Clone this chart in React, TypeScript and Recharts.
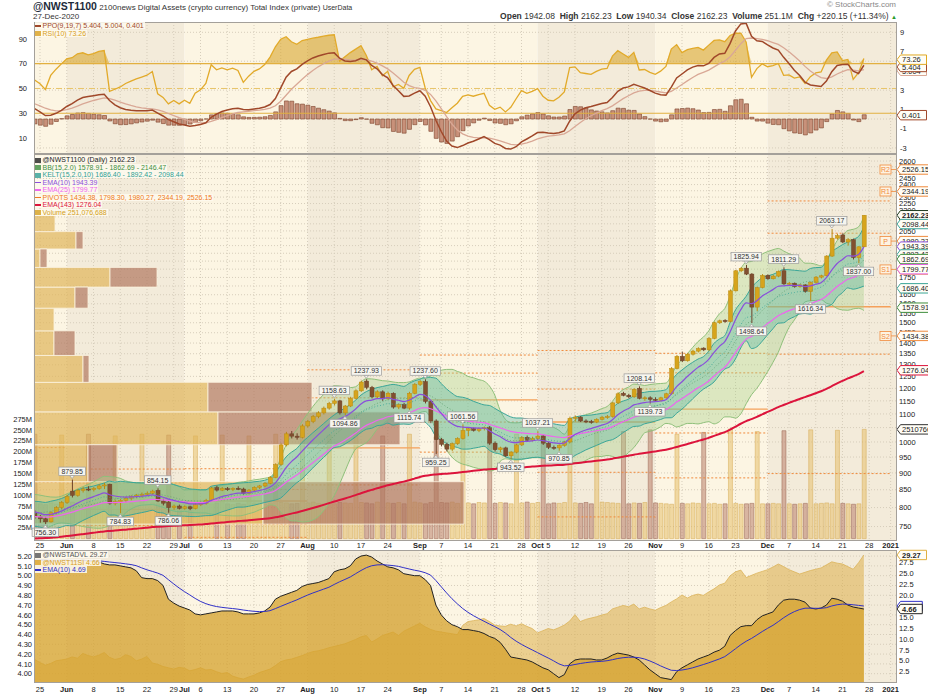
import React from 'react';
import {
  ComposedChart, XAxis, YAxis, CartesianGrid, Bar, Line, Area, Scatter,
  ReferenceArea, ReferenceLine, Cell,
} from 'recharts';

const FONT = '"Liberation Sans", Arial, sans-serif';
const W = 928;
const H = 697;

// plot boxes, page pixels
const PLOT_L = 34;
const PLOT_R = 897;
const TOP_Y0 = 22;
const TOP_Y1 = 154;
const MAIN_Y0 = 154;
const MAIN_Y1 = 541;
const BOT_Y0 = 550;
const BOT_Y1 = 683;
const X_DOMAIN = [-1.12, 160.19];

// ---------------- data ----------------
// one row per weekday, index 0 = Mon 25-May-2020, index -1 = Fri 22-May
const priorCloses = [745, 740, 752, 760, 775, 790, 800, 812, 825, 818, 810, 800, 790, 778];

// [open, high, low, close]
const candles: [number, number, number, number][] = [
  [785, 792, 770, 775],
  // 25 May
  [775, 780, 760, 770], [770, 775, 756.3, 762], [762, 790, 760, 786], [786, 804, 782, 800], [800, 818, 796, 814],
  // 1 Jun
  [814, 836, 810, 830], [846, 879.85, 828, 834], [834, 852, 830, 848], [848, 858, 842, 852], [852, 860, 846, 850],
  // 8 Jun
  [850, 858, 845, 854], [854, 866, 850, 861], [861, 870, 852, 864], [866, 868, 808, 812], [812, 822, 806, 816],
  // 15 Jun
  [816, 824, 784.83, 820], [820, 830, 814, 826], [826, 834, 820, 830], [830, 838, 826, 834], [834, 842, 828, 837],
  // 22 Jun
  [837, 845, 832, 840], [840, 850, 836, 846], [848, 854.15, 815, 818], [818, 824, 806, 812], [815, 820, 786.06, 800],
  // 29 Jun
  [800, 808, 794, 804], [804, 808, 795, 798], [798, 806, 794, 802], [802, 805, 793, 797], [797, 812, 795, 808],
  // 6 Jul
  [808, 816, 804, 812], [812, 824, 808, 820], [820, 858, 816, 855], [856, 862, 845, 849], [849, 858, 846, 853],
  // 13 Jul
  [853, 858, 847, 851], [851, 857, 846, 854], [854, 860, 849, 852], [852, 856, 836, 840], [840, 852, 838, 849],
  // 20 Jul
  [849, 860, 846, 857], [857, 864, 852, 861], [861, 872, 858, 869], [869, 890, 866, 886], [886, 930, 884, 926],
  // 27 Jul
  [926, 995, 922, 990], [990, 1035, 985, 1028], [1028, 1038, 1012, 1020], [1020, 1030, 1008, 1016], [1016, 1062, 1012, 1056],
  // 3 Aug
  [1056, 1078, 1050, 1072], [1072, 1096, 1066, 1090], [1090, 1110, 1084, 1104], [1104, 1128, 1098, 1122], [1122, 1146, 1116, 1140],
  // 10 Aug
  [1140, 1158.63, 1132, 1150], [1150, 1154, 1098, 1104], [1104, 1134, 1094.86, 1130], [1130, 1166, 1126, 1160], [1160, 1196, 1156, 1190],
  // 17 Aug
  [1190, 1232, 1186, 1226], [1230, 1237.93, 1196, 1204], [1204, 1210, 1160, 1166], [1166, 1192, 1160, 1186], [1186, 1192, 1150, 1158],
  // 24 Aug
  [1158, 1186, 1154, 1180], [1180, 1184, 1120, 1126], [1126, 1140, 1118, 1136], [1136, 1142, 1118, 1122], [1122, 1186, 1115.74, 1180],
  // 31 Aug
  [1180, 1222, 1176, 1216], [1216, 1234, 1210, 1228], [1228, 1237.6, 1140, 1148], [1148, 1152, 1066, 1074], [1074, 1080, 959.25, 1008],
  // 7 Sep
  [1008, 1014, 985, 992], [992, 998, 968, 976], [976, 998, 970, 994], [994, 1016, 990, 1012], [1012, 1061.56, 1008, 1040],
  // 14 Sep
  [1040, 1052, 1020, 1046], [1046, 1050, 1036, 1040], [1040, 1050, 1034, 1046], [1046, 1054, 1040, 1050], [1050, 1056, 990, 996],
  // 21 Sep
  [996, 1002, 968, 974], [974, 984, 966, 980], [980, 984, 950, 954], [954, 970, 943.52, 966], [966, 994, 962, 990],
  // 28 Sep
  [990, 1020, 986, 1016], [1016, 1022, 1000, 1006], [1006, 1018, 1002, 1012], [1012, 1037.21, 1006, 1020], [1020, 1024, 990, 996],
  // 5 Oct
  [996, 1000, 976, 982], [982, 988, 974, 980], [980, 992, 970.85, 988], [988, 1004, 984, 1000], [1000, 1090, 996, 1084],
  // 12 Oct
  [1084, 1094, 1072, 1088], [1088, 1092, 1070, 1074], [1074, 1080, 1066, 1072], [1072, 1078, 1064, 1070], [1070, 1084, 1066, 1080],
  // 19 Oct
  [1080, 1092, 1076, 1088], [1088, 1096, 1082, 1090], [1090, 1146, 1086, 1142], [1142, 1184, 1138, 1178], [1180, 1186, 1168, 1172],
  // 26 Oct
  [1172, 1178, 1160, 1166], [1166, 1200, 1162, 1196], [1200, 1208.14, 1156, 1160], [1160, 1168, 1150, 1162], [1162, 1168, 1139.73, 1156],
  // 2 Nov
  [1156, 1164, 1146, 1152], [1152, 1166, 1148, 1162], [1162, 1182, 1158, 1178], [1178, 1290, 1174, 1284], [1284, 1344, 1280, 1338],
  // 9 Nov
  [1338, 1360, 1312, 1318], [1318, 1352, 1314, 1348], [1348, 1368, 1342, 1362], [1362, 1380, 1356, 1374], [1376, 1380, 1362, 1368],
  // 16 Nov
  [1368, 1428, 1362, 1422], [1422, 1506, 1418, 1500], [1500, 1516, 1494, 1510], [1512, 1518, 1500, 1506], [1506, 1680, 1502, 1672],
  // 23 Nov
  [1672, 1796, 1668, 1790], [1790, 1812, 1782, 1804], [1806, 1825.94, 1764, 1770], [1770, 1776, 1498.64, 1582], [1582, 1696, 1560, 1690],
  // 30 Nov
  [1690, 1770, 1686, 1762], [1762, 1768, 1736, 1742], [1742, 1766, 1738, 1758], [1758, 1792, 1752, 1786], [1790, 1811.29, 1706, 1712],
  // 7 Dec
  [1712, 1724, 1700, 1716], [1716, 1720, 1690, 1696], [1696, 1712, 1690, 1706], [1706, 1710, 1662, 1668], [1668, 1726, 1616.34, 1720],
  // 14 Dec
  [1720, 1758, 1714, 1752], [1752, 1766, 1744, 1760], [1760, 1888, 1756, 1882], [1882, 2063.17, 1876, 2000], [2000, 2030, 1990, 2018],
  // 21 Dec
  [2022, 2034, 1966, 1974], [1974, 2000, 1950, 1990], [1990, 1996, 1860, 1872], [1872, 1946, 1837, 1942], [1942.08, 2162.23, 1940.34, 2162.23],
];

// volume, millions
const volumes = [
  240,
  80, 78, 82, 79, 238, 81, 84, 80, 79, 240, 82, 80, 83, 78, 236, 80, 79, 81, 77, 240,
  79, 82, 80, 78, 238, 80, 77, 79, 78, 236, 79, 81, 80, 82, 238, 80, 78, 81, 79, 236,
  81, 80, 79, 82, 240, 83, 82, 80, 81, 242, 82, 84, 81, 80, 238, 80, 83, 82, 81, 245,
  83, 82, 80, 84, 236, 82, 81, 83, 80, 240, 84, 82, 80, 83, 234, 83, 82, 84, 81, 238,
  82, 80, 83, 82, 236, 81, 83, 82, 80, 240, 82, 84, 81, 83, 238, 80, 82, 81, 83, 236,
  82, 81, 83, 80, 248, 84, 83, 82, 81, 246, 80, 82, 81, 83, 250, 82, 81, 80, 79, 240,
  81, 80, 82, 81, 244, 80, 81, 79, 80, 252, 81, 79, 80, 81, 246, 80, 80, 81, 80, 248,
  80, 79, 80, 81, 250, 80, 81, 82, 80, 249, 81, 80, 79, 80, 251.08,
];

// @NWST11SI (left axis of lower panel)
const si = [
  5.16,
  5.16, 5.16, 5.15, 5.15, 5.16, 5.16, 5.15, 5.15, 5.16, 5.15, 5.15, 5.14, 5.12, 5.11, 5.11,
  5.10, 5.09, 5.08, 5.05, 4.98, 4.97, 4.97, 4.95, 4.90, 4.76, 4.72, 4.69, 4.67, 4.65, 4.61,
  4.60, 4.61, 4.62, 4.63, 4.64, 4.64, 4.64, 4.63, 4.61, 4.61, 4.61, 4.62, 4.64, 4.68, 4.76,
  4.79, 4.81, 4.83, 4.85, 4.89, 4.91, 4.92, 4.93, 4.95, 4.97, 5.04, 5.06, 5.07, 5.10, 5.17,
  5.20, 5.21, 5.19, 5.15, 5.12, 5.09, 5.08, 5.06, 5.02, 5.01, 5.00, 5.00, 4.96, 4.90, 4.70,
  4.60, 4.54, 4.50, 4.48, 4.45, 4.45, 4.44, 4.43, 4.41, 4.38, 4.36, 4.32, 4.25, 4.17, 4.16,
  4.15, 4.14, 4.12, 4.09, 4.06, 4.04, 4.00, 3.96, 3.99, 4.10, 4.14, 4.15, 4.15, 4.15, 4.14,
  4.14, 4.16, 4.19, 4.21, 4.20, 4.19, 4.17, 4.14, 4.09, 4.04, 4.00, 3.96, 3.95, 3.94, 4.02,
  4.06, 4.09, 4.12, 4.15, 4.17, 4.19, 4.22, 4.24, 4.28, 4.39, 4.44, 4.48, 4.49, 4.49, 4.55,
  4.59, 4.61, 4.63, 4.70, 4.75, 4.76, 4.76, 4.75, 4.73, 4.67, 4.66, 4.67, 4.70, 4.77, 4.76,
  4.74, 4.70, 4.68, 4.67, 4.66,
];

// @NWSTADVL (right axis of lower panel)
const advl = [
  5.3,
  4.6, 4.0, 4.4, 5.0, 5.2, 5.4, 5.9, 5.6, 6.7, 6.2, 5.9, 6.3, 6.9, 5.8, 5.3,
  5.6, 6.4, 6.0, 5.0, 5.4, 6.0, 4.5, 4.2, 3.7, 3.4, 3.1, 3.5, 3.3, 2.7, 3.0,
  3.4, 2.9, 3.0, 2.5, 2.1, 2.3, 1.5, 1.1, 0.8, 1.3, 1.7, 2.3, 2.7, 3.1, 3.9,
  4.8, 5.2, 5.4, 5.8, 6.2, 6.7, 7.1, 7.3, 7.6, 8.0, 8.3, 8.6, 8.9, 9.4, 9.9,
  10.5, 10.8, 9.3, 10.0, 10.8, 11.2, 11.6, 10.8, 11.8, 12.4, 13.0, 13.6, 12.8, 12.2, 11.8,
  11.6, 11.4, 11.2, 11.0, 13.1, 14.0, 14.2, 14.4, 14.7, 14.0, 13.2, 13.0, 12.9, 13.4, 13.0,
  13.5, 12.9, 12.4, 11.4, 11.9, 12.4, 12.1, 12.6, 13.2, 14.1, 15.6, 14.0, 14.5, 14.8, 15.1,
  15.5, 15.8, 16.9, 17.3, 17.7, 17.4, 18.0, 16.9, 17.3, 16.9, 16.6, 17.2, 17.7, 18.5, 19.2,
  20.1, 19.4, 20.0, 20.3, 20.0, 20.8, 21.5, 22.4, 22.8, 24.5, 25.4, 25.8, 24.1, 24.6, 25.1,
  25.5, 25.9, 26.5, 27.2, 26.6, 25.9, 25.4, 24.9, 25.3, 25.7, 26.0, 26.3, 27.0, 27.7, 27.4,
  27.2, 26.6, 26.0, 27.5, 29.27,
];

// x axis: tick positions (row index) and their labels
const xTickIdx = [0, 5, 10, 15, 20, 25, 27, 30, 35, 40, 45, 50, 55, 60, 65, 71, 75, 80, 85, 90, 93, 95,
  100, 105, 110, 115, 120, 125, 130, 136, 140, 145, 150, 155, 159];
const xTickText = ['25', 'Jun', '8', '15', '22', '29', 'Jul', '6', '13', '20', '27', 'Aug', '10', '17', '24',
  'Sep', '7', '14', '21', '28', 'Oct', '5', '12', '19', '26', 'Nov', '9', '16', '23', 'Dec', '7', '14', '21', '28', '2021'];

const monthStart = [-1.12, 5, 27, 50, 71, 93, 115, 136];
const monthEnd = [5, 27, 50, 71, 93, 115, 136, 160.19];

// monthly pivot levels
const pivotStart = [-1, 5, 27, 50, 71, 93, 115, 136];
const pivotEnd = [5, 27, 50, 71, 93, 115, 136, 159];
const pivotR2 = [981, 912, 913, 1278, 1344, 1365, 1352, 2270];
const pivotR1 = [871, 870, 851, 1162, 1264, 1197, 1265, 2034];
const pivotP = [780, 795, 818, 980, 1154, 1070, 1118, 1584];
const pivotS1 = [670, 753, 756, 864, 1070, 902, 1031, 1348];
const pivotS2 = [579, 678, 723, 682, 966, 775, 885, 898];

// volume by price zones (volume in millions)
const vbpEdges = [756.3, 873.5, 990.6, 1107.8, 1224.9, 1342.1, 1459.3, 1576.4, 1693.6, 1810.8, 1927.9, 2045.1, 2162.2];
const vbpUp = [2290, 540, 1840, 1740, 490, 200, 200, 410, 760, 60, 420, 210];
const vbpDown = [2010, 290, 1820, 1040, 60, 210, 0, 130, 470, 70, 70, 0];

// labelled highs / lows
const annIdx = [1, 6, 15, 22, 24, 55, 57, 61, 69, 72, 74, 79, 88, 93, 97, 112, 114, 132, 133, 139, 144, 148, 153];
const annKind = ['L', 'H', 'L', 'H', 'L', 'H', 'L', 'H', 'L', 'H', 'L', 'H', 'L', 'H', 'L', 'H', 'L', 'H', 'L', 'H', 'L', 'H', 'L'];

// right edge value tags
const mainTagVals = [2526.15, 2344.19, 2162.23, 2098.44, 1980.27, 1943.39, 1892.42, 1862.69, 1798.30, 1799.77, 1686.40, 1578.91, 1434.38, 1276.04];
const mainTagCols = ['#f08a3c', '#f08a3c', '#1e3a1e', '#3aa698', '#f08a3c', '#8a4fdb', '#3aa698', '#3f8f3f', '#f08a3c', '#e060e0', '#3aa698', '#3f8f3f', '#f08a3c', '#dc143c'];
const mainTagNames = ['R2', 'R1', '', '', 'P', '', '', '', 'S1', '', '', '', 'S2', ''];

const priceTicks = [750, 800, 850, 900, 950, 1000, 1050, 1100, 1150, 1200, 1250, 1300, 1350, 1400, 1450, 1500, 1550, 1600,
  1650, 1700, 1750, 1800, 1850, 1900, 1950, 2000, 2050, 2100, 2150, 2200, 2250, 2300, 2350, 2400, 2450, 2500, 2550, 2600];
const volTicks = [25, 50, 75, 100, 125, 150, 175, 200, 225, 250, 275];
const rsiTicks = [10, 30, 50, 70, 90];
const ppoTicks = [-3, -2, -1, 0, 1, 2, 3, 4, 5, 6, 7, 8, 9];
const siTicks = [4, 4.1, 4.2, 4.3, 4.4, 4.5, 4.6, 4.7, 4.8, 4.9, 5, 5.1, 5.2];
const advTicks = [2.5, 5, 7.5, 10, 12.5, 15, 17.5, 20, 22.5, 25, 27.5];

// ---------------- indicators ----------------
const emaOf = (vals: number[], n: number, seed?: number) => {
  const k = 2 / (n + 1);
  let e = seed ?? vals[0];
  return vals.map((v, j) => {
    if (j > 0) e = e + k * (v - e);
    return e;
  });
};

const closes = candles.map((k) => k[3]);
const all = [...priorCloses, ...closes];
const P = priorCloses.length;

const e10 = emaOf(all, 10).slice(P);
const e25 = emaOf(all, 25).slice(P);
const e15 = emaOf(all, 15).slice(P);
const e143 = emaOf(closes, 143, 720);

const bands = closes.map((_, j) => {
  const win = all.slice(j + P - 14, j + P + 1);
  const m = win.reduce((a, b) => a + b, 0) / win.length;
  const sd = Math.sqrt(win.reduce((a, b) => a + (b - m) * (b - m), 0) / win.length);
  return [m - 2 * sd, m, m + 2 * sd];
});

let atrRun = 16;
const atr = candles.map((k, j) => {
  const pc = all[j + P - 1];
  const tr = Math.max(k[1] - k[2], Math.abs(k[1] - pc), Math.abs(k[2] - pc));
  atrRun = (atrRun * 9 + tr) / 10;
  return atrRun;
});

const rsiOf = (vals: number[], n: number) => {
  const out = vals.map(() => 50);
  let g = 0;
  let l = 0;
  for (let j = 1; j <= n; j++) {
    const d = vals[j] - vals[j - 1];
    if (d > 0) g += d; else l -= d;
  }
  g /= n; l /= n;
  out[n] = 100 - 100 / (1 + g / l);
  for (let j = n + 1; j < vals.length; j++) {
    const d = vals[j] - vals[j - 1];
    g = (g * (n - 1) + Math.max(d, 0)) / n;
    l = (l * (n - 1) + Math.max(-d, 0)) / n;
    out[j] = l === 0 ? 100 : 100 - 100 / (1 + g / l);
  }
  return out;
};
const rsi = rsiOf(all, 10).slice(P);

const e9 = emaOf(all, 9);
const e19 = emaOf(all, 19);
const ppoAll = all.map((_, j) => (100 * (e9[j] - e19[j])) / e19[j]);
const sigAll = emaOf(ppoAll, 7);
const ppo = ppoAll.slice(P);
const sig = sigAll.slice(P);
const siE = emaOf(si, 10);

const rows = candles.map((k, j) => ({
  i: j - 1,
  o: k[0], h: k[1], l: k[2], c: k[3],
  hl: [k[2], k[1]],
  up: k[3] >= k[0],
  vol: volumes[j],
  bb: [bands[j][0], bands[j][2]],
  bbM: bands[j][1],
  kel: [e15[j] - 2 * atr[j], e15[j] + 2 * atr[j]],
  kM: e15[j],
  e10: e10[j], e25: e25[j], e143: e143[j],
  rsi: rsi[j],
  rsiHi: [70, Math.max(70, rsi[j])],
  ppo: ppo[j], sig: sig[j], hist: ppo[j] - sig[j],
  si: si[j], siE: siE[j], advl: advl[j],
}));

const annRows = annIdx.map((ix, k) => {
  const kk = candles[ix + 1];
  const v = annKind[k] === 'H' ? kk[1] : kk[2];
  return { i: ix, v, t: v.toFixed(2), k: annKind[k] };
});

const XMAX = X_DOMAIN[1];
const mainTagRows = mainTagVals.map((v, k) => ({
  i: XMAX, v, t: v.toFixed(2), c: mainTagCols[k], tag: mainTagNames[k], b: k === 2,
}));
const volTagRows = [{ i: XMAX, v: 251.08, t: '251076688', c: '#333', tag: '', b: false }];
const rsiTagRows = [{ i: XMAX, v: 73.26, t: '73.26', c: '#e0a820', tag: '', b: false }];
const ppoTagRows = [
  { i: XMAX, v: 5.004, t: '5.004', c: '#d9a896', tag: '', b: false },
  { i: XMAX, v: 5.404, t: '5.404', c: '#a0482a', tag: '', b: false },
  { i: XMAX, v: 0.401, t: '0.401', c: '#a0482a', tag: '', b: false },
];
const advTagRows = [{ i: XMAX, v: 29.27, t: '29.27', c: '#e0b040', tag: '', b: true }];
const siTagRows = [
  { i: XMAX, v: 4.69, t: '4.69', c: '#3030c8', tag: '', b: false },
  { i: XMAX, v: 4.66, t: '4.66', c: '#222', tag: '', b: true },
];

// ---------------- shapes ----------------
const Candle = (p: any) => {
  const { x, y, width, height, payload } = p;
  if (!payload || !isFinite(y) || !isFinite(height)) return <g />;
  const top = Math.min(y, y + height);
  const span = Math.abs(height);
  const lh = Math.log(payload.h);
  const ll = Math.log(payload.l);
  const at = (v: number) => top + (lh === ll ? 0 : ((lh - Math.log(v)) / (lh - ll)) * span);
  const up = payload.c >= payload.o;
  const y1 = at(Math.max(payload.o, payload.c));
  const y2 = at(Math.min(payload.o, payload.c));
  const cx = x + width / 2;
  const edge = up ? '#b98a12' : '#6e4128';
  return (
    <g>
      <line x1={cx} x2={cx} y1={top} y2={top + span} stroke={edge} strokeWidth={1} />
      <rect x={x} y={y1} width={width} height={Math.max(1, y2 - y1)} fill={up ? '#d6a41c' : '#81502f'} stroke={edge} strokeWidth={0.5} />
    </g>
  );
};

const AnnBox = (p: any) => {
  const { cx, cy, payload } = p;
  if (cx == null || cy == null) return <g />;
  const w = payload.t.length * 3.75 + 4;
  const bh = 8.5;
  const above = payload.k === 'H';
  const by = above ? cy - 4 - bh : cy + 4;
  const tip = above
    ? `M${cx - 2.5},${by + bh} L${cx},${cy - 1} L${cx + 2.5},${by + bh} Z`
    : `M${cx - 2.5},${by} L${cx},${cy + 1} L${cx + 2.5},${by} Z`;
  return (
    <g>
      <path d={tip} fill="#f6f5ef" stroke="#9a9a9a" strokeWidth={0.7} />
      <rect x={cx - w / 2} y={by} width={w} height={bh} fill="#f6f5ef" stroke="#9a9a9a" strokeWidth={0.7} />
      <text x={cx} y={by + bh - 1.8} textAnchor="middle" fontSize={7} fontFamily={FONT} fill="#333">{payload.t}</text>
    </g>
  );
};

const EdgeTag = (p: any) => {
  const { cx, cy, payload } = p;
  if (cx == null || cy == null) return <g />;
  const w = payload.t.length * 4.2 + 5;
  return (
    <g>
      {payload.tag ? (
        <g>
          <line x1={cx - 6} x2={cx} y1={cy} y2={cy} stroke={payload.c} strokeWidth={0.8} />
          <rect x={cx - 17} y={cy - 4.5} width={11} height={9} fill="#fdf3e2" stroke={payload.c} strokeWidth={0.8} />
          <text x={cx - 11.5} y={cy + 2.7} textAnchor="middle" fontSize={7} fontFamily={FONT} fill={payload.c}>{payload.tag}</text>
        </g>
      ) : null}
      <path d={`M${cx},${cy} L${cx + 3.5},${cy - 4.7} H${cx + 3.5 + w} V${cy + 4.7} H${cx + 3.5} Z`} fill="#fffdf6" stroke={payload.c} strokeWidth={1} />
      <text x={cx + 5} y={cy + 2.8} fontSize={7.5} fontFamily={FONT} fontWeight={payload.b ? 700 : 400} fill="#222">{payload.t}</text>
    </g>
  );
};

const makeXTick = (dy: number) => (props: any) => {
  const { x, y, payload } = props;
  const k = xTickIdx.indexOf(payload.value);
  const label = k >= 0 ? xTickText[k] : '';
  const bold = /^[A-Z]/.test(label) || label === '2021';
  return (
    <text x={x} y={y + dy} textAnchor="middle" fontSize={7.5} fontFamily={FONT} fontWeight={bold ? 700 : 400} fill="#222">{label}</text>
  );
};

const yTick = { fontSize: 7.5, fill: '#222', fontFamily: FONT };

// ---------------- layout helpers ----------------
function Layer({ top, bottom, left = PLOT_L, right = W - PLOT_R, data, children }: any) {
  return (
    <div style={{ position: 'absolute', left: 0, top: 0, width: W, height: H }}>
      <ComposedChart width={W} height={H} data={data} margin={{ top, bottom: H - bottom, left, right }}>
        {children}
      </ComposedChart>
    </div>
  );
}

function Shade({ top, bottom }: any) {
  return (
    <Layer top={top} bottom={bottom} data={rows}>
      <XAxis xAxisId="t" dataKey="i" type="number" domain={X_DOMAIN} ticks={xTickIdx} hide allowDataOverflow />
      <YAxis yAxisId="s" type="number" domain={[0, 1]} ticks={[0, 1]} hide allowDataOverflow />
      {monthStart.map((s, k) => (
        <ReferenceArea key={k} xAxisId="t" yAxisId="s" x1={s} x2={monthEnd[k]} y1={0} y2={1}
          fill={k % 2 ? '#f3ebda' : '#fcf5e3'} fillOpacity={1} stroke="none" />
      ))}
    </Layer>
  );
}

const legendBg = 'rgba(253,249,238,0.88)';
function LegendLine({ color, text, icon }: any) {
  return (
    <div style={{ height: 7.5, lineHeight: '7.5px', whiteSpace: 'nowrap' }}>
      <span style={{ background: legendBg, color, paddingRight: 1 }}>
        <span style={{ display: 'inline-block', width: 6, height: icon === 'line' ? 1.6 : 5, background: color, verticalAlign: 'middle', marginRight: 1.5, opacity: icon === 'line' ? 1 : 0.8 }} />
        {text}
      </span>
    </div>
  );
}

function Border({ top, bottom }: any) {
  return (
    <div style={{ position: 'absolute', left: PLOT_L, top, width: PLOT_R - PLOT_L, height: bottom - top, border: '1px solid #a4a09a', boxSizing: 'border-box', pointerEvents: 'none' }} />
  );
}

export default function App() {
  return (
    <div style={{ position: 'fixed', left: 0, top: 0, width: W, height: H, background: '#ffffff', overflow: 'hidden', fontFamily: FONT }}>
      {/* background month shading */}
      <Shade top={TOP_Y0} bottom={TOP_Y1} />
      <Shade top={MAIN_Y0} bottom={MAIN_Y1} />
      <Shade top={BOT_Y0} bottom={BOT_Y1} />

      {/* ---- top panel: PPO + RSI ---- */}
      <Layer top={TOP_Y0} bottom={TOP_Y1} left={0} right={0} data={rows}>
        <XAxis xAxisId="t" dataKey="i" type="number" domain={X_DOMAIN} ticks={xTickIdx} hide allowDataOverflow />
        <YAxis yAxisId="rsi" orientation="left" type="number" domain={[-2.93, 103.7]} ticks={rsiTicks} width={34}
          tick={yTick} tickSize={0} tickMargin={7} axisLine={false} tickLine={false} allowDataOverflow />
        <YAxis yAxisId="ppo" orientation="right" type="number" domain={[-3.63, 10.07]} ticks={ppoTicks} width={31}
          tick={yTick} tickSize={0} tickMargin={3} axisLine={false} tickLine={false} allowDataOverflow />
        <CartesianGrid xAxisId="t" yAxisId="ppo" horizontalValues={ppoTicks} verticalValues={xTickIdx} stroke="#d6cdbb" strokeDasharray="1 2" />
        <ReferenceLine xAxisId="t" yAxisId="rsi" y={70} stroke="#e2b040" strokeWidth={1.2} />
        <ReferenceLine xAxisId="t" yAxisId="rsi" y={30} stroke="#e2b040" strokeWidth={1.2} />
        <ReferenceLine xAxisId="t" yAxisId="rsi" y={50} stroke="#e8c468" strokeWidth={1} strokeDasharray="6 2 1 2" />
        <Bar xAxisId="t" yAxisId="ppo" dataKey="hist" barSize={4} fill="#c8917a" stroke="#7a4028" strokeWidth={0.6} isAnimationActive={false} />
        <Area xAxisId="t" yAxisId="rsi" dataKey="rsiHi" type="linear" fill="#d9a62e" fillOpacity={0.6} stroke="none" isAnimationActive={false} />
        <Line xAxisId="t" yAxisId="rsi" dataKey="rsi" type="linear" stroke="#e2aa2a" strokeWidth={1.3} dot={false} isAnimationActive={false} />
        <Line xAxisId="t" yAxisId="ppo" dataKey="sig" type="linear" stroke="#d9a896" strokeWidth={1.3} dot={false} isAnimationActive={false} />
        <Line xAxisId="t" yAxisId="ppo" dataKey="ppo" type="linear" stroke="#a0482a" strokeWidth={1.5} dot={false} isAnimationActive={false} />
      </Layer>
      <Layer top={TOP_Y0} bottom={TOP_Y1}>
        <XAxis xAxisId="t" dataKey="i" type="number" domain={X_DOMAIN} ticks={xTickIdx} hide />
        <YAxis yAxisId="rsi" type="number" domain={[-2.93, 103.7]} ticks={rsiTicks} hide />
        <YAxis yAxisId="ppo" type="number" domain={[-3.63, 10.07]} ticks={ppoTicks} hide />
        <Scatter xAxisId="t" yAxisId="ppo" data={ppoTagRows} dataKey="v" shape={EdgeTag} isAnimationActive={false} />
        <Scatter xAxisId="t" yAxisId="rsi" data={rsiTagRows} dataKey="v" shape={EdgeTag} isAnimationActive={false} />
      </Layer>

      {/* ---- main panel: back ---- */}
      <Layer top={MAIN_Y0} bottom={MAIN_Y1 + 9} left={0} right={0} data={rows}>
        <XAxis xAxisId="t" dataKey="i" type="number" domain={X_DOMAIN} ticks={xTickIdx} interval={0} height={9}
          tickSize={0} tickMargin={0} axisLine={false} tickLine={false} tick={makeXTick(7)} allowDataOverflow />
        <YAxis yAxisId="p" orientation="right" scale="log" type="number" domain={[714, 2663]} ticks={priceTicks} width={31}
          tick={yTick} tickSize={0} tickMargin={2} axisLine={false} tickLine={false} interval={0} allowDataOverflow />
        <YAxis yAxisId="vol" orientation="left" type="number" domain={[-5.5, 884]} ticks={volTicks} width={34}
          tick={yTick} tickSize={0} tickMargin={2} axisLine={false} tickLine={false} interval={0}
          tickFormatter={(v: number) => `${v}M`} allowDataOverflow />
        <CartesianGrid xAxisId="t" yAxisId="p" horizontalValues={priceTicks} verticalValues={xTickIdx} stroke="#d6cdbb" strokeDasharray="1 2" />
        <Bar xAxisId="t" yAxisId="vol" dataKey="vol" barSize={4} isAnimationActive={false}>
          {rows.map((r, k) => (
            <Cell key={k} fill={r.up ? 'rgba(230,192,110,0.55)' : 'rgba(185,128,108,0.55)'} stroke={r.up ? 'rgba(212,168,80,0.8)' : 'rgba(150,95,75,0.8)'} strokeWidth={0.6} />
          ))}
        </Bar>
        {pivotStart.map((s, k) => [pivotR2, pivotR1, pivotP, pivotS1, pivotS2].map((arr, m) => (
          <ReferenceLine key={`pv${k}-${m}`} xAxisId="t" yAxisId="p"
            segment={[{ x: s, y: arr[k] }, { x: pivotEnd[k], y: arr[k] }]}
            stroke={m === 2 ? '#f5a05a' : '#f08a3c'} strokeWidth={m === 2 ? 1.4 : 1}
            strokeDasharray={m === 2 ? undefined : '2 2'} ifOverflow="discard" />
        )))}
      </Layer>

      {/* ---- main panel: volume by price ---- */}
      <Layer top={MAIN_Y0} bottom={MAIN_Y1}>
        <XAxis xAxisId="vbp" dataKey="x" type="number" domain={[0, 8630]} ticks={[0, 8630]} hide allowDataOverflow />
        <YAxis yAxisId="p" scale="log" type="number" domain={[714, 2663]} ticks={priceTicks} hide allowDataOverflow />
        {vbpUp.map((u, k) => (
          <ReferenceArea key={`u${k}`} xAxisId="vbp" yAxisId="p" x1={0} x2={u} y1={vbpEdges[k]} y2={vbpEdges[k + 1]}
            fill="#dfb55a" fillOpacity={0.7} stroke="#fbf3df" strokeWidth={0.8} />
        ))}
        {vbpDown.map((d, k) => (d > 0 ? (
          <ReferenceArea key={`d${k}`} xAxisId="vbp" yAxisId="p" x1={vbpUp[k]} x2={vbpUp[k] + d} y1={vbpEdges[k]} y2={vbpEdges[k + 1]}
            fill="#b07860" fillOpacity={0.7} stroke="#fbf3df" strokeWidth={0.8} />
        ) : null))}
      </Layer>

      {/* ---- main panel: overlays and candles ---- */}
      <Layer top={MAIN_Y0} bottom={MAIN_Y1} data={rows}>
        <XAxis xAxisId="t" dataKey="i" type="number" domain={X_DOMAIN} ticks={xTickIdx} hide allowDataOverflow />
        <YAxis yAxisId="p" scale="log" type="number" domain={[714, 2663]} ticks={priceTicks} hide allowDataOverflow />
        <Area xAxisId="t" yAxisId="p" dataKey="bb" type="monotone" fill="#a8cf8a" fillOpacity={0.38} stroke="#8fc07a" strokeWidth={1} isAnimationActive={false} />
        <Area xAxisId="t" yAxisId="p" dataKey="kel" type="monotone" fill="#4fb3a0" fillOpacity={0.36} stroke="#3aa698" strokeWidth={1} isAnimationActive={false} />
        <Line xAxisId="t" yAxisId="p" dataKey="bbM" type="monotone" stroke="#5f9f6f" strokeWidth={0.8} strokeDasharray="1 2" dot={false} isAnimationActive={false} />
        <Line xAxisId="t" yAxisId="p" dataKey="kM" type="monotone" stroke="#3aa698" strokeWidth={0.8} strokeDasharray="1 2" dot={false} isAnimationActive={false} />
        <Line xAxisId="t" yAxisId="p" dataKey="e143" type="monotone" stroke="#dc143c" strokeWidth={2} dot={false} isAnimationActive={false} />
        <Line xAxisId="t" yAxisId="p" dataKey="e25" type="monotone" stroke="#ee66ee" strokeWidth={1.2} dot={false} isAnimationActive={false} />
        <Line xAxisId="t" yAxisId="p" dataKey="e10" type="monotone" stroke="#8a4fdb" strokeWidth={1.2} dot={false} isAnimationActive={false} />
        <Bar xAxisId="t" yAxisId="p" dataKey="hl" barSize={4} shape={Candle} isAnimationActive={false} />
      </Layer>

      {/* ---- main panel: labels ---- */}
      <Layer top={MAIN_Y0} bottom={MAIN_Y1}>
        <XAxis xAxisId="t" dataKey="i" type="number" domain={X_DOMAIN} ticks={xTickIdx} hide />
        <YAxis yAxisId="p" scale="log" type="number" domain={[714, 2663]} ticks={priceTicks} hide />
        <YAxis yAxisId="vol" type="number" domain={[-5.5, 884]} ticks={volTicks} hide />
        <Scatter xAxisId="t" yAxisId="p" data={annRows} dataKey="v" shape={AnnBox} isAnimationActive={false} />
        <Scatter xAxisId="t" yAxisId="vol" data={volTagRows} dataKey="v" shape={EdgeTag} isAnimationActive={false} />
        <Scatter xAxisId="t" yAxisId="p" data={mainTagRows} dataKey="v" shape={EdgeTag} isAnimationActive={false} />
      </Layer>

      {/* ---- bottom panel ---- */}
      <Layer top={BOT_Y0} bottom={BOT_Y1 + 14} left={0} right={0} data={rows}>
        <XAxis xAxisId="t" dataKey="i" type="number" domain={X_DOMAIN} ticks={xTickIdx} interval={0} height={14}
          tickSize={0} tickMargin={0} axisLine={false} tickLine={false} tick={makeXTick(9)} allowDataOverflow />
        <YAxis yAxisId="si" orientation="left" type="number" domain={[3.905, 5.262]} ticks={siTicks} width={34}
          tick={yTick} tickSize={0} tickMargin={2} axisLine={false} tickLine={false} interval={0}
          tickFormatter={(v: number) => v.toFixed(2)} allowDataOverflow />
        <YAxis yAxisId="adv" orientation="right" type="number" domain={[-0.09, 30.41]} ticks={advTicks} width={31}
          tick={yTick} tickSize={0} tickMargin={2} axisLine={false} tickLine={false} interval={0}
          tickFormatter={(v: number) => v.toFixed(1)} allowDataOverflow />
        <CartesianGrid xAxisId="t" yAxisId="si" horizontalValues={siTicks} verticalValues={xTickIdx} stroke="#d6cdbb" strokeDasharray="1 2" />
        <Area xAxisId="t" yAxisId="adv" dataKey="advl" type="linear" fill="#dcae4a" fillOpacity={0.55} stroke="#dcb45a" strokeWidth={0.8} isAnimationActive={false} />
        <Area xAxisId="t" yAxisId="si" dataKey="si" type="linear" fill="#d6a22c" fillOpacity={0.75} stroke="#222" strokeWidth={1} isAnimationActive={false} />
        <Line xAxisId="t" yAxisId="si" dataKey="siE" type="linear" stroke="#3030c8" strokeWidth={1} dot={false} isAnimationActive={false} />
      </Layer>
      <Layer top={BOT_Y0} bottom={BOT_Y1}>
        <XAxis xAxisId="t" dataKey="i" type="number" domain={X_DOMAIN} ticks={xTickIdx} hide />
        <YAxis yAxisId="si" type="number" domain={[3.905, 5.262]} ticks={siTicks} hide />
        <YAxis yAxisId="adv" type="number" domain={[-0.09, 30.41]} ticks={advTicks} hide />
        <Scatter xAxisId="t" yAxisId="adv" data={advTagRows} dataKey="v" shape={EdgeTag} isAnimationActive={false} />
        <Scatter xAxisId="t" yAxisId="si" data={siTagRows} dataKey="v" shape={EdgeTag} isAnimationActive={false} />
      </Layer>

      <Border top={TOP_Y0} bottom={TOP_Y1} />
      <Border top={MAIN_Y0} bottom={MAIN_Y1} />
      <Border top={BOT_Y0} bottom={BOT_Y1} />

      {/* header */}
      <div style={{ position: 'absolute', left: 33, top: 1, fontSize: 8, color: '#333', whiteSpace: 'nowrap', lineHeight: '11px' }}>
        <b style={{ fontSize: 10.5, color: '#1c2a3a' }}>@NWST1100</b> 2100news Digital Assets (crypto currency) Total Index (private) <span style={{ fontSize: 7 }}>UserData</span>
      </div>
      <div style={{ position: 'absolute', left: 33, top: 12, fontSize: 8, color: '#333', lineHeight: '9px' }}>27-Dec-2020</div>
      <div style={{ position: 'absolute', right: 32, top: 0, fontSize: 8, color: '#888', lineHeight: '9px' }}>© StockCharts.com</div>
      <div style={{ position: 'absolute', right: 31, top: 11, fontSize: 8.5, color: '#333', whiteSpace: 'nowrap', lineHeight: '10px' }}>
        <b>Open</b> 1942.08 &nbsp;<b>High</b> 2162.23 &nbsp;<b>Low</b> 1940.34 &nbsp;<b>Close</b> 2162.23 &nbsp;<b>Volume</b> 251.1M &nbsp;<b>Chg</b> +220.15 (+11.34%) <span style={{ color: '#2a9a2a', fontSize: 6 }}>▲</span>
      </div>

      {/* legends */}
      <div style={{ position: 'absolute', left: 35, top: 22, fontSize: 7 }}>
        <LegendLine color="#a0482a" icon="line" text="PPO(9,19,7) 5.404, 5.004, 0.401" />
        <LegendLine color="#d9a020" icon="area" text="RSI(10) 73.26" />
      </div>
      <div style={{ position: 'absolute', left: 35, top: 156, fontSize: 7 }}>
        <LegendLine color="#222" icon="area" text="@NWST1100 (Daily) 2162.23" />
        <LegendLine color="#3f8f3f" icon="area" text="BB(15,2.0) 1578.91 - 1862.69 - 2146.47" />
        <LegendLine color="#2f9f95" icon="area" text="KELT(15,2.0,10) 1686.40 - 1892.42 - 2098.44" />
        <LegendLine color="#8a4fdb" icon="line" text="EMA(10) 1943.39" />
        <LegendLine color="#ee66ee" icon="line" text="EMA(25) 1799.77" />
        <LegendLine color="#f07a20" icon="line" text="PIVOTS 1434.38, 1798.30, 1980.27, 2344.19, 2526.15" />
        <LegendLine color="#dc143c" icon="line" text="EMA(143) 1276.04" />
        <LegendLine color="#d4a020" icon="area" text="Volume 251,076,688" />
      </div>
      <div style={{ position: 'absolute', left: 35, top: 551, fontSize: 7 }}>
        <LegendLine color="#555" icon="area" text="@NWSTADVL 29.27" />
        <LegendLine color="#d9a020" icon="area" text="@NWST11SI 4.66" />
        <LegendLine color="#3030c8" icon="line" text="EMA(10) 4.69" />
      </div>
    </div>
  );
}
